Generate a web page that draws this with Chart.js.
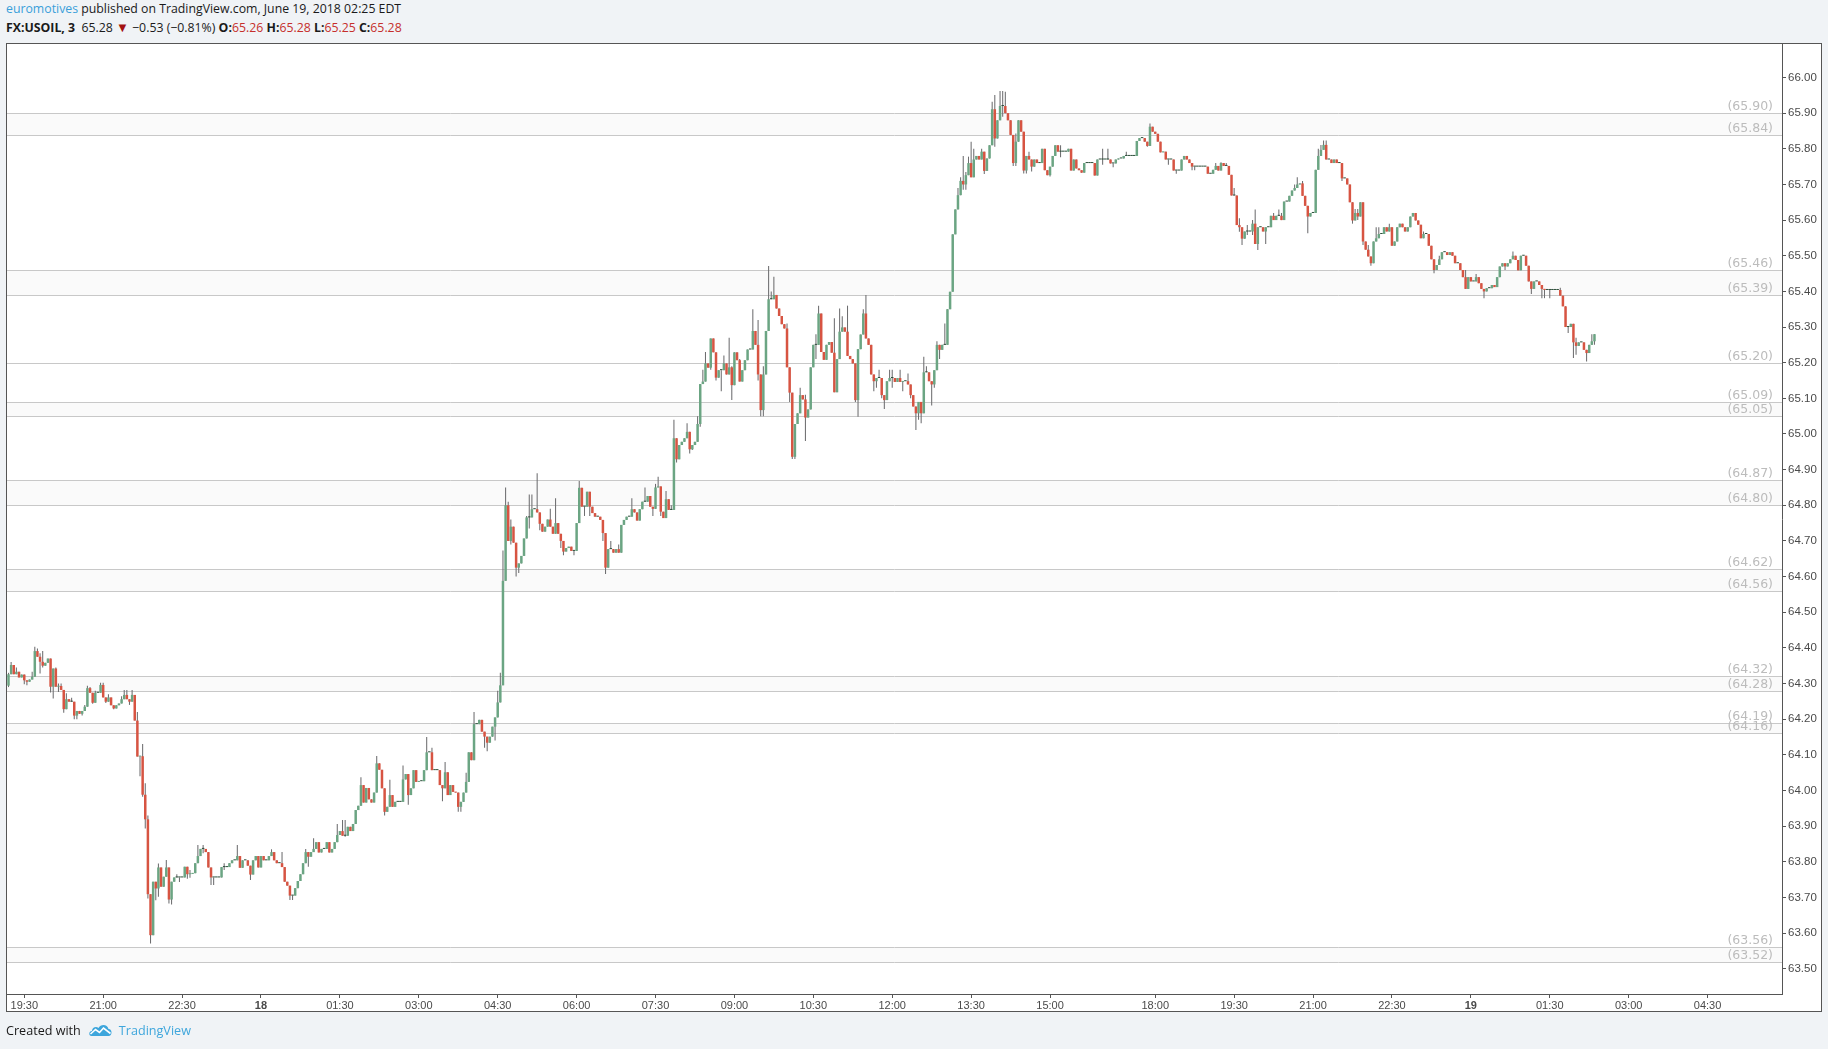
<!DOCTYPE html>
<html>
<head>
<meta charset="utf-8">
<title>FX:USOIL, 3</title>
<script src="https://cdn.jsdelivr.net/npm/chart.js@4.4.6/dist/chart.umd.min.js"></script>
<style>
  html, body { margin: 0; padding: 0; background: #f0f3f6; }
  body { width: 1828px; height: 1049px; position: relative; overflow: hidden;
         font-family: "Open Sans", sans-serif; color: #1a1a1a; }
  #cnv { position: absolute; left: 0; top: 0; }
  .hdr { position: absolute; left: 6px; font-size: 12.3px; line-height: 16px; white-space: nowrap; }
  #hdr1 { top: 1px; }
  #hdr2 { top: 19px; }
  .blue { color: #3a9fda; }
  .red { color: #c62f2b; }
  .tri { color: #a31212; font-size: 13px; }
  #foot { position: absolute; left: 6px; top: 1022px; font-size: 12.6px; line-height: 18px; white-space: nowrap; }
  #foot svg { vertical-align: -2px; margin: 0 6px 0 7px; }
  #foot .tv { color: #3ea6dc; }
</style>
</head>
<body>
<div id="hdr1" class="hdr"><span class="blue">euromotives</span> published on TradingView.com, June 19, 2018 02:25 EDT</div>
<div id="hdr2" class="hdr"><b>FX:USOIL, 3</b>&nbsp; 65.28 <span class="tri">&#9660;</span> &minus;0.53 (&minus;0.81%) <b>O:</b><span class="red">65.26</span> <b>H:</b><span class="red">65.28</span> <b>L:</b><span class="red">65.25</span> <b>C:</b><span class="red">65.28</span></div>
<canvas id="cnv" width="1828" height="1049"></canvas>
<div id="foot">Created with<svg width="25" height="14" viewBox="0 0 24 14"><path d="M3 13 C0 13 0 8 3.5 8 C3.5 4 8 3 10 5 C12 1 19 1 20 6 C24 6 24 13 20 13 Z" fill="#3ea6dc"/><path d="M2 11 L7 6.5 L11 9.5 L15 5 L22 10.5" stroke="#fff" stroke-width="1.6" fill="none"/></svg><span class="tv">TradingView</span></div>

<script>
// 3 min candles, [close, high, low]; open = previous close, high/low left out when no wick
const firstOpen = 64.294;

// Jun 17 19:12 - 23:57
const jun17 = [
  [64.326,64.33,64.29],[64.352,64.36],[64.326],[64.333,64.345],[64.317],[64.325],[64.309,null,64.298],[64.305,null,64.295],[64.311],[64.319,64.333],
  [64.391,64.403],[64.375,64.398],[64.361,64.385,64.328],[64.35,64.391,64.345],[64.358],[64.37],[64.291,null,64.275],[64.342,null,64.258],[64.291,64.345],[64.293,64.30,64.276],
  [64.282,64.30],[64.228,null,64.218],[64.256,64.273],[64.249],[64.249,64.26],[64.21,null,64.20],[64.223,null,64.20],[64.215],[64.223,null,64.21],[64.235,64.24],
  [64.287,64.294],[64.274,64.29],[64.246,null,64.243],[64.274,64.28],[64.274],[64.296,64.302],[64.261,64.302],[64.249,null,64.245],[64.261,64.27],[64.239],
  [64.23,null,64.228],[64.239],[64.244],[64.256,64.264],[64.268,64.282],[64.256,64.282],[64.249,null,64.24],[64.268,64.282],[64.196,64.268],[64.095,64.22],
  [64.096,null,64.04],[63.988,64.13,63.982],[63.919,64.02,63.893],[63.709,63.93,63.697],[63.594,null,63.571],[63.744,null,63.60],[63.725,null,63.692],[63.784,63.795,63.702],[63.73],[63.758],
  [63.784,63.805],[63.694,null,63.683],[63.744,null,63.68],[63.756],[63.756,63.765],[63.756,null,63.743],[63.756],[63.786],[63.765,null,63.752],[63.766,63.777,63.755],
  [63.768],[63.796],[63.816,63.847],[63.836],[63.836,63.847,63.824],[63.827],[63.784],[63.756,null,63.735],[63.756,null,63.735],[63.756],
  [63.756],[63.785],[63.785,63.796,63.777],[63.785],[63.796],[63.804],[63.804],[63.816,63.847],[63.783],[63.804],
  [63.804],[63.789],[63.764,null,63.749],[63.804],[63.816],[63.784]
];

// Jun 18 00:00 - 07:57
const jun18am = [
  [63.816],[63.804],[63.804],[63.816],[63.827,63.835],[63.804],[63.796],[63.796],[63.785,63.827],[63.744],
  [63.733],[63.705,null,63.693],[63.705,null,63.693],[63.726],[63.746],[63.765],[63.796],[63.827,63.836],[63.814,null,63.786],[63.827],
  [63.836,63.866],[63.855],[63.826],[63.836],[63.836],[63.855],[63.826],[63.836],[63.855],[63.875,63.906],
  [63.886],[63.873,63.917],[63.873,63.917,63.87],[63.898],[63.886],[63.906],[63.945],[63.957],[64.015,64.037],[63.966],
  [64.007],[63.975],[63.966],[63.994],[64.076,64.097],[64.058],[64.006],[63.94,null,63.93],[63.954],[63.987,64.03],
  [63.954],[63.968],[63.968],[63.968],[64.031,64.07],[64.046],[63.987,null,63.96],[64.006],[64.057],[64.024],
  [64.026],[64.026],[64.057],[64.107,64.15],[64.107],[64.057,64.12],[64.057],[64.057],[64.015],[64.006,null,63.97],
  [64.051,64.08],[63.987],[64.015],[63.996],[63.994],[63.954,null,63.94],[63.968,null,63.94],[63.994],[64.024,64.05],[64.107],
  [64.085],[64.186,64.22],[64.186],[64.198],[64.165],[64.151,null,64.12],[64.134,null,64.11],[64.151],[64.179],[64.205,null,64.14],
  [64.247,64.28],[64.295,64.33],[64.588,64.673],[64.80,64.85],[64.70,64.81],[64.74,64.76,64.69],[64.695],[64.625,null,64.60],[64.637,null,64.61],[64.658],
  [64.707,null,64.66],[64.766,64.77],[64.766,64.83,64.735],[64.789,64.83],[64.789],[64.78,64.89],[64.748,null,64.73],[64.726],[64.74],[64.76],
  [64.74,64.79],[64.72],[64.75,64.82],[64.72],[64.70,null,64.68],[64.67,null,64.66],[64.68],[64.684],[64.672],[64.672,null,64.66],
  [64.75],[64.849,64.868],[64.796],[64.796,null,64.77],[64.838],[64.796,null,64.77],[64.778],[64.768],[64.768],[64.759],
  [64.722,null,64.70],[64.625,null,64.607],[64.677],[64.677,64.70],[64.667],[64.677],[64.667,64.69],[64.745],[64.759],[64.768],
  [64.768],[64.789,64.82],[64.78],[64.757],[64.789],[64.81],[64.81,64.85],[64.826],[64.796],[64.79,null,64.77],
  [64.85,64.86],[64.853,64.88],[64.782,null,64.77],[64.764],[64.817,64.84],[64.787],[64.787,64.80],[64.988,65.04],[64.929,null,64.92],[64.969]
];

// Jun 18 08:00 - 16:57
const jun18pm = [
  [64.978],[64.988],[65.006,65.03],[64.957,null,64.945],[64.969,null,64.955],[64.978],[65.028,65.05],[65.14,null,65.02],[65.147,65.18],[65.198,65.23],
  [65.186],[65.268,null,65.18],[65.229,65.268],[65.158,null,65.15],[65.179],[65.179,null,65.12],[65.198,65.22],[65.167],[65.187,65.27],[65.137,65.19,65.095],
  [65.229],[65.207],[65.147,65.21],[65.179],[65.207],[65.237],[65.237],[65.289,65.35],[65.25],[65.167,65.32,65.15],
  [65.067,null,65.05],[65.167,65.19,65.05],[65.289],[65.378,65.471],[65.378,65.40],[65.39,65.441],[65.352],[65.331],[65.308],[65.296],
  [65.187,65.31],[65.116,null,65.09],[64.936,null,64.93],[65.028,null,64.93],[65.058,null,65.03],[65.109,65.13],[65.097],[65.046,65.11,64.98],[65.069],[65.187],
  [65.25],[65.25,65.28,65.21],[65.338,65.36],[65.23],[65.208],[65.25],[65.258],[65.228],[65.117,65.325],[65.21],
  [65.287,65.352],[65.299,65.33],[65.287],[65.219,65.36],[65.21],[65.198],[65.095,null,65.09],[65.238,null,65.048],[65.279],[65.338,65.35],
  [65.268,65.39],[65.25],[65.167],[65.148,null,65.12],[65.157,null,65.13],[65.157,65.18],[65.109,null,65.10],[65.095,null,65.07],[65.148],[65.157,65.18],
  [65.157,65.18,65.13],[65.146],[65.157],[65.146,65.18],[65.148,null,65.12],[65.148],[65.139,65.17],[65.109,null,65.10],[65.077],[65.058,null,65.011],
  [65.09,null,65.04],[65.058,null,65.03],[65.173,65.217],[65.173,65.19],[65.148],[65.139,null,65.08],[65.179,null,65.13],[65.25,65.26],[65.236,null,65.21],[65.25],
  [65.25,65.31],[65.35],[65.399],[65.56],[65.63],[65.67,65.69],[65.71,65.72],[65.70,65.78,65.685],[65.726,65.735,65.685],[65.76,65.778],
  [65.72,65.82],[65.77,65.80],[65.78],[65.77],[65.792,65.80],[65.738,null,65.729],[65.773],[65.81],[65.911,65.932],[65.829,65.951,65.806],
  [65.88],[65.92,65.962],[65.92,65.962,65.89],[65.90,65.96],[65.88],[65.839],[65.76,null,65.752],[65.82,65.843,65.752],[65.88],[65.848],
  [65.739,null,65.731],[65.78,null,65.731],[65.77,65.792],[65.75,null,65.736],[65.77],[65.76],[65.76],[65.80],[65.74],[65.726],
  [65.75,null,65.722],[65.78],[65.81],[65.792],[65.792,65.81,65.776],[65.792],[65.792],[65.80],[65.739],[65.77],
  [65.745],[65.74],[65.733],[65.76],[65.76],[65.76],[65.76],[65.725],[65.77],[65.77],
  [65.77,65.80,65.755],[65.77],[65.77,65.80],[65.759],[65.759,null,65.748],[65.77],[65.773],[65.773],[65.78],[65.78,65.792],
  [65.78],[65.78],[65.78],[65.822],[65.83],[65.83],[65.82],[65.808,null,65.806],[65.862,65.871],[65.848]
];

// Jun 18 18:00 - 23:57
const jun18eve = [
  [65.842],[65.82],[65.79],[65.792],[65.77],[65.77,null,65.755],[65.77],[65.739],[65.739,null,65.73],[65.739],
  [65.77],[65.78],[65.77],[65.76],[65.75,null,65.74],[65.75,null,65.74],[65.75],[65.75],[65.75],[65.75],
  [65.73],[65.73],[65.741],[65.752,65.76],[65.739],[65.76,65.762],[65.752],[65.752,65.76],[65.727],[65.669],
  [65.669,65.69],[65.586],[65.58,65.605,65.567],[65.548,null,65.53],[65.568],[65.568,65.586,65.558],[65.568],[65.59,65.60,65.558],[65.533,65.63],[65.58,null,65.516],
  [65.58],[65.568],[65.58,null,65.533],[65.58],[65.612],[65.60,65.62],[65.612],[65.612,65.63],[65.60,65.62],[65.652,null,65.60],
  [65.652],[65.668],[65.683],[65.69,65.70],[65.70,65.72],[65.703],[65.668,65.71],[65.64],[65.61,null,65.563],[65.62],
  [65.62],[65.741],[65.78,65.80],[65.797,65.811],[65.811,65.823],[65.77,65.823],[65.77],[65.76],[65.77],[65.76],
  [65.76],[65.717,null,65.71],[65.717],[65.70],[65.65],[65.599,null,65.59],[65.62,65.631],[65.61,65.631,65.60],[65.65],[65.54,null,65.53],
  [65.517],[65.498,65.53],[65.479,null,65.472],[65.54],[65.549,65.58],[65.561,65.58],[65.561],[65.58],[65.568],[65.58,65.59],
  [65.528],[65.54],[65.58],[65.59],[65.58],[65.568],[65.58],[65.61],[65.62],[65.599],
  [65.587],[65.549],[65.561,65.568],[65.561],[65.528],[65.49],[65.46,null,65.451],[65.474],[65.49,65.50],[65.51],
  [65.51],[65.502],[65.51],[65.50],[65.479],[65.479],[65.46],[65.44],[65.407,65.46],[65.44]
];

// Jun 19 00:00 - 02:21
const jun19 = [
  [65.428],[65.428],[65.44,65.449],[65.423],[65.407],[65.40,null,65.381],[65.409],[65.409],[65.418],[65.412],
  [65.44],[65.47],[65.479],[65.47,null,65.46],[65.479],[65.49],[65.50,65.512],[65.488],[65.459],[65.50],
  [65.50],[65.472],[65.428],[65.407,null,65.393],[65.428],[65.428],[65.418],[65.407,null,65.381],[65.404,null,65.381],[65.404],
  [65.404,null,65.381],[65.404],[65.404],[65.404],[65.388,65.41],[65.358],[65.30],[65.30,null,65.283],[65.309],[65.257,null,65.213],
  [65.247,65.27,65.222],[65.257],[65.257],[65.236],[65.227,null,65.203],[65.25],[65.26,65.28],[65.28,65.28,65.25]
];

// time axis: candle index of each label (17:00-18:00 break is skipped)
const timeTickIdx = [6, 36, 66, 96, 126, 156, 186, 216, 246, 276, 306, 336, 366, 396, 436, 466, 496, 526, 556, 586, 616, 646];
const timeTickLabels = ['19:30', '21:00', '22:30', '18', '01:30', '03:00', '04:30', '06:00', '07:30', '09:00', '10:30',
  '12:00', '13:30', '15:00', '18:00', '19:30', '21:00', '22:30', '19', '01:30', '03:00', '04:30'];
const dayLabels = ['18', '19'];

const priceTicks = [63.5, 63.6, 63.7, 63.8, 63.9, 64.0, 64.1, 64.2, 64.3, 64.4, 64.5, 64.6, 64.7,
  64.8, 64.9, 65.0, 65.1, 65.2, 65.3, 65.4, 65.5, 65.6, 65.7, 65.8, 65.9, 66.0];

// horizontal levels drawn on the chart
const levelBands = [[65.90, 65.84], [65.46, 65.39], [65.09, 65.05], [64.87, 64.80],
  [64.62, 64.56], [64.32, 64.28], [64.19, 64.16], [63.56, 63.52]];
const levelSingles = [65.20];

const green = '#6ba583', red = '#d75442', dojiCol = '#2c4d39', wickCol = '#6e6e70';

const candles = [].concat(jun17, jun18am, jun18pm, jun18eve, jun19);
const bodyData = [], wickData = [], bodyColors = [];
let prevClose = firstOpen;
candles.forEach((c, i) => {
  const open = prevClose, close = c[0];
  const hi = Math.max(c[1] != null ? c[1] : close, open, close);
  const lo = Math.min(c[2] != null ? c[2] : close, open, close);
  bodyData.push({ x: i, y: [open, close] });
  wickData.push({ x: i, y: [lo, hi] });
  bodyColors.push(close > open ? green : (close < open ? red : dojiCol));
  prevClose = close;
});

const framePlugin = {
  id: 'frame',
  beforeDraw(chart) {
    const { ctx, chartArea: a } = chart;
    const l = a.left - 1, t = a.top - 1, r = a.right + 40, b = a.bottom + 18;
    ctx.save();
    ctx.fillStyle = '#ffffff';
    ctx.fillRect(l, t, r - l, b - t);
    ctx.strokeStyle = '#555555';
    ctx.lineWidth = 1;
    ctx.strokeRect(l + 0.5, t + 0.5, r - l - 1, b - t - 1);
    ctx.restore();
  }
};

const levelPlugin = {
  id: 'levels',
  beforeDatasetsDraw(chart) {
    const { ctx, chartArea: a, scales: { y } } = chart;
    const py = v => Math.round(y.getPixelForValue(v)) + 0.5;
    ctx.save();
    ctx.beginPath();
    ctx.rect(a.left, a.top, a.width, a.height);
    ctx.clip();
    ctx.fillStyle = '#fafafa';
    levelBands.forEach(([hi, lo]) => {
      ctx.fillRect(a.left, py(hi), a.width, py(lo) - py(hi));
    });
    const all = levelBands.flat().concat(levelSingles);
    ctx.strokeStyle = '#c8c8c8';
    ctx.lineWidth = 1;
    all.forEach(v => {
      ctx.beginPath();
      ctx.moveTo(a.left, py(v));
      ctx.lineTo(a.right, py(v));
      ctx.stroke();
    });
    ctx.font = '12.5px "DejaVu Sans"';
    ctx.fillStyle = '#bcbcbc';
    ctx.textAlign = 'right';
    ctx.textBaseline = 'alphabetic';
    all.forEach(v => {
      ctx.fillText('(' + v.toFixed(2) + ')', a.right - 9, py(v) - 4);
    });
    ctx.restore();
  }
};

new Chart(document.getElementById('cnv'), {
  type: 'bar',
  data: {
    datasets: [
      { label: 'body', data: bodyData, backgroundColor: bodyColors, grouped: false,
        barPercentage: 0.95, categoryPercentage: 1, minBarLength: 1, borderWidth: 0, order: 0 },
      { label: 'wick', data: wickData, backgroundColor: wickCol, grouped: false,
        barPercentage: 0.4, categoryPercentage: 1, borderWidth: 0, order: 1 }
    ]
  },
  options: {
    responsive: false,
    animation: false,
    devicePixelRatio: 1,
    layout: { padding: { left: 7, top: 44, right: 6, bottom: 37 } },
    plugins: { legend: { display: false }, tooltip: { enabled: false } },
    scales: {
      x: {
        type: 'linear',
        min: -0.57,
        max: 674.3,
        offset: false,
        grid: { display: true, drawOnChartArea: false, drawTicks: true, tickLength: 4, color: '#555555', offset: false },
        border: { display: true, color: '#555555' },
        ticks: {
          autoSkip: false, maxRotation: 0, padding: 1, color: '#4a4a4a',
          font: ctx => ({ family: '"Liberation Sans", Arial, sans-serif', size: 11,
            weight: ctx.tick && dayLabels.includes(ctx.tick.label) ? 'bold' : 'normal' }),
          callback: v => timeTickLabels[timeTickIdx.indexOf(v)]
        },
        afterBuildTicks: s => { s.ticks = timeTickIdx.map(v => ({ value: v })); },
        afterFit: s => { s.height = 18; }
      },
      y: {
        position: 'right',
        min: 63.429,
        max: 66.094,
        beginAtZero: false,
        grid: { display: true, drawOnChartArea: false, drawTicks: true, tickLength: 4, color: '#555555' },
        border: { display: true, color: '#555555' },
        ticks: {
          padding: 2, color: '#4a4a4a',
          font: { family: '"Liberation Sans", Arial, sans-serif', size: 11.5 },
          callback: v => v.toFixed(2)
        },
        afterBuildTicks: s => { s.ticks = priceTicks.map(v => ({ value: v })); },
        afterFit: s => { s.width = 40; }
      }
    }
  },
  plugins: [framePlugin, levelPlugin]
});
</script>
</body>
</html>
